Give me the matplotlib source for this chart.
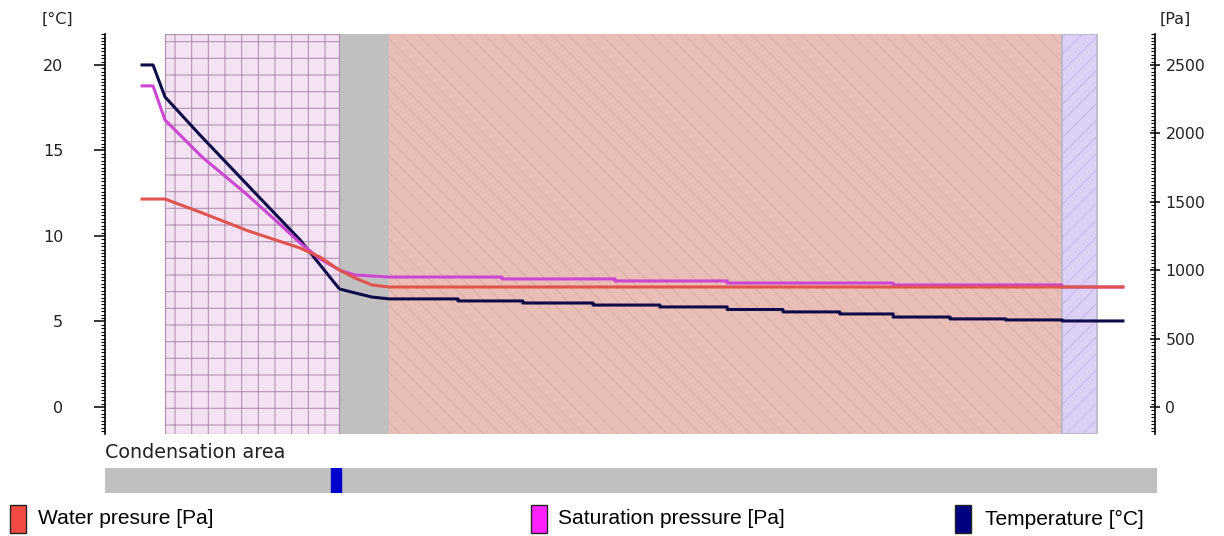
import numpy as np
import matplotlib
matplotlib.use("Agg")
import matplotlib.pyplot as plt
from matplotlib.ticker import MultipleLocator
from matplotlib.patches import Rectangle

# ---------------- data ----------------
layer_edges = [0, 35, 45, 180, 187]          # mm, wall layers

temp_x = [-4.6, -2.4, 0.0, 7.0, 18.1, 22.1, 27.1, 35.0, 38.1, 41.5]
temp_c = [20.0, 20.0, 18.13, 15.91, 12.51, 11.29, 9.77, 6.90, 6.67, 6.43]
temp_step_x = [45.0, 58.8, 71.8, 85.9, 99.3, 112.8, 124.0, 135.4, 146.1, 157.5, 168.7, 180.0, 192.2]
temp_step_c = [6.32, 6.20, 6.08, 5.96, 5.85, 5.70, 5.56, 5.44, 5.26, 5.15, 5.09, 5.03, 5.03]

sat_x = [-4.6, -2.4, 0.0, 7.4, 16.1, 22.1, 27.1, 31.1, 35.0, 38.1]
sat_pa = [2347, 2347, 2098, 1828, 1564, 1367, 1199, 1082, 1001, 965]
sat_step_x = [45.0, 67.6, 90.3, 112.8, 146.1, 180.0, 192.2]
sat_step_pa = [950, 936, 921, 906, 892, 877, 877]

water_x = [-4.6, 0.0, 7.0, 16.7, 27.1, 31.1, 35.0, 38.1, 41.5, 45.0, 192.2]
water_pa = [1520, 1520, 1425, 1287, 1162, 1096, 1001, 943, 892, 877, 877]

cond_zone = [33.3, 35.3]

temp_ticks = [0, 5, 10, 15, 20]
pa_ticks = [0, 500, 1000, 1500, 2000, 2500]
legend_labels = ["Water presure [Pa]", "Saturation pressure [Pa]", "Temperature [°C]"]

# ---------------- style ----------------
C_WATER = "#e0544e"
C_SAT = "#cc46d2"
C_TEMP = "#0e0c48"
LEG_COLORS = ["#f44a44", "#ff22ff", "#000080"]
TXT = "#222222"

plt.rcParams["font.family"] = ["DejaVu Sans"]
plt.rcParams["hatch.linewidth"] = 0.8

W, H = 1224, 536
fig = plt.figure(figsize=(W / 100, H / 100), dpi=100)
fig.patch.set_facecolor("white")

s = 932 / 187.0
xl = ((105 - 165) / s, (1155 - 165) / s)
ylim_t = (-1.58, 21.81)
PA_PER_C = 125.0

ax = fig.add_axes([105 / W, 1 - 434 / H, 1050 / W, 400 / H])
ax.set_xlim(*xl)
ax.set_ylim(*ylim_t)
ax2 = ax.twinx()
ax2.set_ylim(ylim_t[0] * PA_PER_C, ylim_t[1] * PA_PER_C)
ax2.set_xlim(*xl)

# layers
e = layer_edges
ax.axvspan(e[0], e[1], facecolor="#f4e2f4", edgecolor="#b193b1", hatch="+", lw=0, zorder=0)
ax.axvspan(e[0], e[1], fill=False, edgecolor="#b193b1", lw=0.9, zorder=0.1)
ax.axvspan(e[1], e[2], facecolor="#c0c0c0", lw=0, zorder=0)
ax.axvspan(e[2], e[3], facecolor="#e8beb6", edgecolor="#dcb0a8", hatch="\\\\", lw=0, zorder=0)
ax.axvspan(e[3], e[4], facecolor="#dcd0f6", edgecolor="#c8b9ee", hatch="//", lw=0, zorder=0)
ax.axvspan(e[3], e[4], fill=False, edgecolor="#b6b6c6", lw=1.2, zorder=0.1)


def stepped(xs, ys):
    return np.repeat(xs, 2)[1:], np.repeat(ys, 2)[:-1]


sx, sy = stepped(temp_step_x, temp_step_c)
ax.plot(np.concatenate([temp_x, sx]), np.concatenate([temp_c, sy]), color=C_TEMP, lw=2.2, zorder=3)

sx, sy = stepped(sat_step_x, sat_step_pa)
ax2.plot(np.concatenate([sat_x, sx]), np.concatenate([sat_pa, sy]), color=C_SAT, lw=2.2, zorder=3)
ax2.plot(water_x, water_pa, color=C_WATER, lw=2.2, zorder=4)

# axes styling
for sp in ["top", "bottom", "right"]:
    ax.spines[sp].set_visible(False)
for sp in ["top", "bottom", "left"]:
    ax2.spines[sp].set_visible(False)
ax.spines["left"].set_linewidth(1.2)
ax2.spines["right"].set_linewidth(1.2)
ax.set_xticks([])
ax2.set_xticks([])

ax.set_yticks(temp_ticks)
ax.yaxis.set_minor_locator(MultipleLocator(0.2))
ax.tick_params(axis="y", which="major", direction="out", length=8, width=1.1, pad=22,
               labelsize=11.5, labelcolor=TXT)
ax.tick_params(axis="y", which="minor", direction="out", length=3, width=0.8)

ax2.set_yticks(pa_ticks)
ax2.yaxis.set_minor_locator(MultipleLocator(25))
ax2.tick_params(axis="y", which="major", direction="inout", length=7, width=1.1, pad=4,
                labelsize=11.3, labelcolor=TXT)
ax2.tick_params(axis="y", which="minor", direction="in", length=3, width=0.8)

fig.text(42 / W, 1 - 19 / H, "[°C]", ha="left", va="center", size=11.5, color=TXT)
fig.text(1160 / W, 1 - 19 / H, "[Pa]", ha="left", va="center", size=11.5, color=TXT)

# condensation area bar
fig.text(105 / W, 1 - 453 / H, "Condensation area", ha="left", va="center", size=13.8, color=TXT)
cax = fig.add_axes([105 / W, 1 - 493 / H, 1052 / W, 25 / H])
cax.set_facecolor("#c0c0c0")
cax.set_xlim(*xl)
cax.set_ylim(0, 1)
cax.axvspan(cond_zone[0], cond_zone[1], color="#0000cc")
for sp in cax.spines.values():
    sp.set_visible(False)
cax.set_xticks([])
cax.set_yticks([])

# legend
box_x = [10, 531, 955]
text_x = [38, 558, 985]
for bx, tx, lab, col in zip(box_x, text_x, legend_labels, LEG_COLORS):
    fig.add_artist(Rectangle((bx / W, 1 - 533 / H), 16 / W, 28 / H, transform=fig.transFigure,
                             facecolor=col, edgecolor="#222222", lw=1.0))
    fig.text(tx / W, 1 - 519 / H, lab, ha="left", va="center", size=15.1,
             family=["Liberation Sans", "DejaVu Sans"], color="black")

fig.savefig("out.png", dpi=100)
